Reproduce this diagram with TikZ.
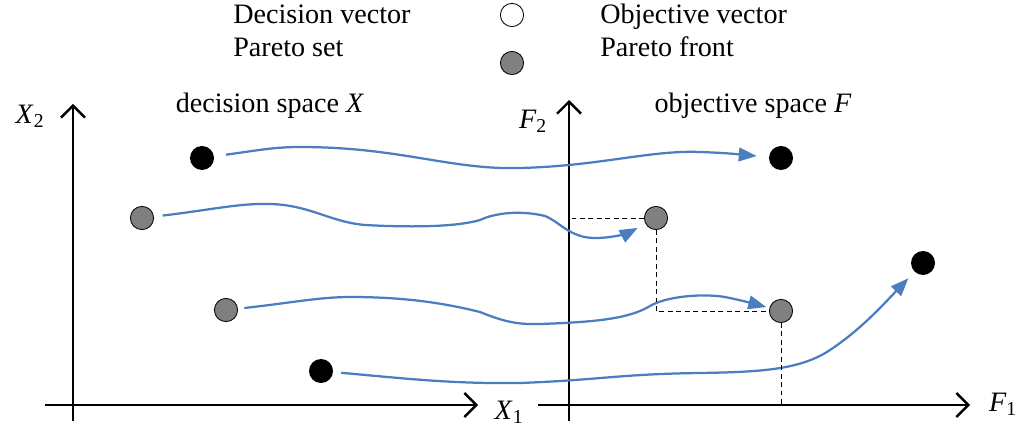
\documentclass[tikz,border=0pt]{standalone}
\usepackage{fontspec}
\setmainfont{Liberation Serif}
\usetikzlibrary{arrows.meta,positioning,calc}
\definecolor{curveblue}{RGB}{74,126,193}
\definecolor{paretogray}{RGB}{128,128,128}

\begin{document}
\begin{tikzpicture}[x=0.025cm,y=-0.025cm, every node/.style={font=\fontsize{20}{24}\selectfont}, vecdot/.style={circle,fill=black,minimum size=0.6cm,inner sep=0}, paretodot/.style={circle,draw=black,line width=0.6pt,fill=paretogray,minimum size=0.58cm,inner sep=0}, axis/.style={line width=1.7pt,-{Straight Barb[length=3mm,width=6mm,line width=1.7pt]}}, arr/.style={curveblue,line width=1.6pt,-{Triangle[length=4.5mm,width=3.4mm]}}, guide/.style={dash pattern=on 3.5pt off 2.5pt,line width=0.7pt}]
\useasboundingbox (0,0) rectangle (1024,432);
% legend
\node[anchor=base west,inner sep=0] (ldv) at (233,24) {Decision vector};
\node[anchor=base west,inner sep=0] (lps) at (233,57) {Pareto set};
\node[circle,draw=black,line width=0.6pt,fill=white,minimum size=0.58cm,inner sep=0] (lw) at (512,15) {};
\node[paretodot] (lg) at (512,63) {};
\node[anchor=base west,inner sep=0] (lov) at (600,24) {Objective vector};
\node[anchor=base west,inner sep=0] (lpf) at (600,57) {Pareto front};
% axes
\coordinate (O1) at (73,405);
\coordinate (O2) at (569,405);
\draw[axis] (45,405) -- (478,405);
\draw[axis] (73,421) -- (73,104);
\draw[axis] (538,405) -- (970,405);
\draw[axis] (569,421) -- (569,100);
\node (x1) at (509,412) {\textit{X}\textsubscript{1}};
\node (x2) at (30,116) {\textit{X}\textsubscript{2}};
\node (f1) at (1003,404) {\textit{F}\textsubscript{1}};
\node (f2) at (533,121) {\textit{F}\textsubscript{2}};
\node (dsp) at (270,106) {decision space \textit{X}};
\node (osp) at (753,106) {objective space \textit{F}};
% decision vectors
\node[vecdot] (d1) at (202,158) {};
\node[paretodot] (d2) at (142,218) {};
\node[paretodot] (d3) at (226,310) {};
\node[vecdot] (d4) at (321,371) {};
% objective vectors
\node[vecdot] (o1) at (781,158) {};
\node[paretodot] (o2) at (656,218) {};
\node[paretodot] (o3) at (781,311) {};
\node[vecdot] (o4) at (923,263) {};
% mappings
\draw[arr,shorten <=0.3cm,shorten >=0.3cm] (d1) .. controls (260,150) and (275,147) .. (300,147) .. controls (400,147) and (450,170) .. (520,168) .. controls (600,166) and (650,150) .. (700,152) .. controls (730,153) and (745,155) .. (o1);
\draw[arr,shorten <=0.22cm,shorten >=0.22cm] (d2) .. controls (210,210) and (240,203) .. (270,204) .. controls (310,205) and (330,222) .. (365,225) .. controls (420,228) and (460,226) .. (480,220) .. controls (495,213) and (520,210) .. (545,216) .. controls (560,222) and (570,238) .. (595,238) .. controls (615,238) and (630,232) .. (o2);
\draw[arr,shorten <=0.16cm,shorten >=0.08cm] (d3) .. controls (290,303) and (320,297) .. (350,297) .. controls (400,297) and (440,302) .. (480,312) .. controls (500,320) and (515,325) .. (540,324) .. controls (600,322) and (630,318) .. (650,306) .. controls (665,297) and (700,293) .. (725,297) .. controls (740,300) and (755,304) .. (o3);
\draw[arr,shorten <=0.2cm,shorten >=0.22cm] (d4) .. controls (400,378) and (450,384) .. (520,383) .. controls (600,380) and (620,374) .. (700,373) .. controls (760,372) and (800,370) .. (830,350) .. controls (860,330) and (880,308) .. (o4);
% pareto front guides
\draw[guide] (o2.west) -- (o2 -| O2);
\draw[guide] (o2.south) |- (o3.west);
\draw[guide] (o3.south) -- (o3 |- O2);
\end{tikzpicture}
\end{document}
